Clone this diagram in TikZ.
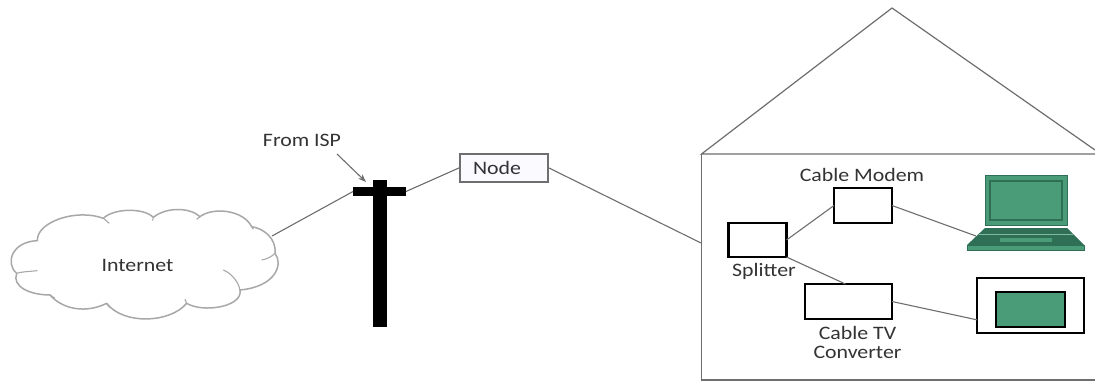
\documentclass[tikz,border=0pt]{standalone}
\usepackage{fontspec}
\setmainfont[FakeStretch=1.15]{Carlito}
\usetikzlibrary{arrows.meta}
\definecolor{linegray}{HTML}{6E6E6E}
\definecolor{cloudgray}{HTML}{A8A8A8}
\definecolor{labelgray}{HTML}{333333}
\definecolor{screengreen}{HTML}{4A9B78}
\definecolor{darkgreen}{HTML}{2F6F56}
\tikzset{
  wire/.style={draw=linegray,line width=1.1pt},
  devicebox/.style={draw=black,line width=2.2pt,fill=white,inner sep=0pt,outer sep=0pt},
  label/.style={text=labelgray,font=\fontsize{19}{19}\selectfont,inner sep=0pt,align=center},
  polebar/.style={fill=black,draw=none,inner sep=0pt,outer sep=0pt}
}
\begin{document}
\begin{tikzpicture}[x=1pt,y=-1pt]
\useasboundingbox[fill=white] (0,0) rectangle (1095,381);
% house
\draw[wire,line width=1.2pt] (1095,150) -- (892,8) -- (701.5,154) -- (1095,154);
\draw[wire,line width=1.2pt] (701.5,154) -- (701.5,380) -- (1095,380);
\coordinate (housein) at (701,243);
% cloud
\begin{scope}[shift={(0,130)},x=0.3333pt,y=-0.3333pt]
\draw[draw=cloudgray,line width=1.5pt,fill=white,line join=round]
 (112,332) .. controls (110,275) and (230,235) .. (310,265)
 .. controls (340,235) and (430,232) .. (460,262)
 .. controls (500,230) and (570,232) .. (600,260)
 .. controls (640,230) and (730,240) .. (755,290)
 .. controls (790,295) and (830,325) .. (825,370)
 .. controls (850,400) and (830,470) .. (720,480)
 .. controls (730,530) and (610,550) .. (560,520)
 .. controls (510,580) and (370,585) .. (320,520)
 .. controls (260,550) and (190,540) .. (150,495)
 .. controls (90,495) and (35,470) .. (50,430)
 .. controls (15,400) and (35,335) .. (112,332) -- cycle;
\draw[draw=cloudgray,line width=1.1pt] (112,422) .. controls (85,425) and (65,425) .. (50,430);
\draw[draw=cloudgray,line width=1.1pt] (670,420) .. controls (695,430) and (715,455) .. (720,480);
\draw[draw=cloudgray,line width=1.1pt] (825,370) .. controls (815,380) and (800,388) .. (785,390);
\draw[draw=cloudgray,line width=1.1pt] (755,290) -- (760,298);
\draw[draw=cloudgray,line width=1.1pt] (310,265) -- (328,280);
\draw[draw=cloudgray,line width=1.1pt] (460,262) -- (458,272);
\draw[draw=cloudgray,line width=1.1pt] (600,260) -- (590,268);
\draw[draw=cloudgray,line width=1.1pt] (320,520) -- (328,532);
\draw[draw=cloudgray,line width=1.1pt] (560,520) -- (555,508);
\draw[draw=cloudgray,line width=1.1pt] (150,495) -- (165,505);
\end{scope}
\coordinate (cloudedge) at (272,236);
\node[label] (internet) at (137.5,265) {Internet};
% pole
\node[polebar,minimum width=14pt,minimum height=147pt] (pole) at (380,253.5) {};
\node[polebar,minimum width=53pt,minimum height=9pt] (crossbar) at (379.5,191.5) {};
\node[label] (isp) at (302,140) {From ISP};
\coordinate (isptip) at (366,182);
\draw[draw=linegray,line width=1.1pt,-{Stealth[length=8pt,width=6pt]}] (337,154) -- (isptip);
% node box
\node[draw=linegray,line width=2pt,fill=blue!2,minimum width=88pt,minimum height=28pt,inner sep=0pt,outer sep=0pt] (nodebox) at (504,167.5) {};
\node[label] (nodelabel) at (497,168) {Node};
\draw[wire] (cloudedge) -- (crossbar.west);
\draw[wire] (crossbar.east) -- (nodebox.west);
\draw[wire] (nodebox.east) -- (housein);
% devices
\node[devicebox,minimum width=58pt,minimum height=34pt] (splitter) at (757.5,240) {};
\node[devicebox,minimum width=58pt,minimum height=35pt] (modem) at (863,205.5) {};
\node[devicebox,minimum width=87pt,minimum height=35pt] (converter) at (848.5,301.5) {};
\node[devicebox,minimum width=107pt,minimum height=55pt] (tv) at (1030.5,305.5) {};
\node[draw=black,line width=2.2pt,fill=screengreen,minimum width=69pt,minimum height=35pt,inner sep=0pt,outer sep=0pt] (screen) at (1030.5,309.5) {};
\node[label] (modemlabel) at (862,175) {Cable Modem};
\node[label] (splitterlabel) at (764,271.5) {Splitter};
\node[label] (convlabel) at (857.5,342.5) {Cable TV\\Converter};
% laptop
\coordinate (laptopin) at (976,236);
\draw[draw=darkgreen,line width=1pt,fill=screengreen] (985,175) rectangle (1067,225);
\draw[draw=darkgreen,line width=1.2pt,fill=screengreen] (990,181) rectangle (1062,220);
\fill[darkgreen] (985,228) -- (1067,228) -- (1084,245) -- (967,245) -- cycle;
\draw[draw=screengreen!70!white,line width=.7pt] (979,234) -- (1073,234);
\fill[screengreen] (1000,238) rectangle (1052,242);
\fill[screengreen] (967,245) rectangle (1084,250);
\draw[draw=darkgreen,line width=.8pt] (967,245) rectangle (1084,250);
% links
\draw[wire] (splitter.east) -- (modem.west);
\draw[wire] (splitter.south east) -- (converter.100);
\draw[wire] (modem.east) -- (laptopin);
\draw[wire] (converter.east) -- (tv.195);
\end{tikzpicture}
\end{document}
